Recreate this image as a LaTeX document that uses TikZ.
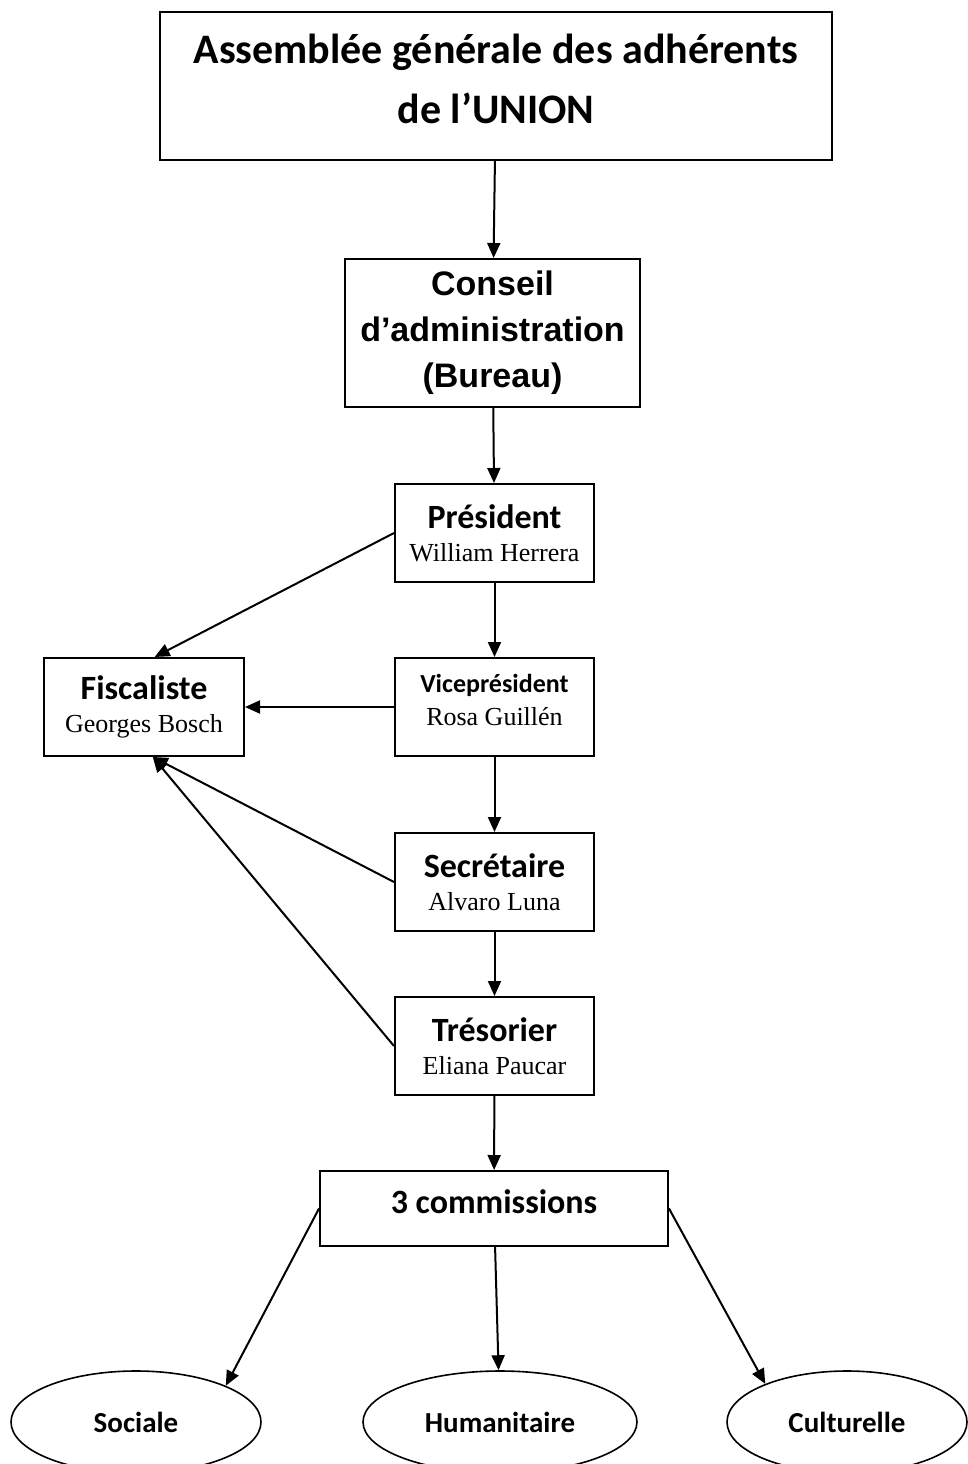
\documentclass[tikz,border=0pt]{standalone}
\usepackage{fontspec}
\setmainfont{Liberation Serif}
\newfontfamily\calib{Carlito}
\newfontfamily\arialf{Liberation Sans}
\usepackage{tikz}
\usetikzlibrary{shapes.geometric,arrows.meta}
\tikzstyle{block} = [rectangle, draw, line width=2pt, align=center,
    minimum width=199pt, minimum height=98pt, inner sep=0pt,
    font=\fontsize{26}{33}\selectfont]
\tikzstyle{comm} = [ellipse, draw, line width=1.6pt, minimum height=102pt,
    inner sep=0pt, font=\calib\bfseries\fontsize{29}{29}\selectfont]
\tikzstyle{line} = [draw, line width=2pt, -{Triangle[length=15pt,width=13pt]}]
\newcommand{\poste}[2]{{\calib\bfseries\fontsize{34}{34}\selectfont #1}\\#2}
\newcommand{\remonte}[1]{\rule[-#1]{0pt}{0pt}}

\begin{document}
\begin{tikzpicture}[x=1pt, y=1pt, auto]
        \useasboundingbox (0,0) rectangle (968,-1464);
        % Place nodes
        \node [block, minimum width=672pt, minimum height=148pt,
            font=\calib\bfseries\fontsize{42}{60}\selectfont] (assemblee) at (496,-86)
            {Assemblée générale des adhérents\\de l’UNION\remonte{14pt}};
        \node [block, below of=assemblee, node distance=247pt, xshift=-3.5pt,
            minimum width=295pt, minimum height=148pt,
            font=\arialf\bfseries\fontsize{34}{46}\selectfont] (conseil)
            {Conseil\\d’administration\\(Bureau)};
        \node [block, below of=conseil, node distance=200pt, xshift=2pt] (president)
            {\poste{Président}{William Herrera}};
        \node [block, below of=president, node distance=174pt] (vice)
            {{\calib\bfseries\fontsize{26}{26}\selectfont Viceprésident}\\Rosa Guillén\remonte{14pt}};
        \node [block, left of=vice, node distance=350.5pt, minimum width=200pt] (fisc)
            {\poste{Fiscaliste}{Georges Bosch}};
        \node [block, below of=vice, node distance=175pt] (secretaire)
            {\poste{Secrétaire}{Alvaro Luna}};
        \node [block, below of=secretaire, node distance=164pt] (tresorier)
            {\poste{Trésorier}{Eliana Paucar}};
        \node [block, below of=tresorier, node distance=162.5pt, xshift=-0.5pt,
            minimum width=348pt, minimum height=75pt,
            font=\calib\bfseries\fontsize{34}{34}\selectfont] (commissions)
            {3 commissions\remonte{14pt}};
        \node [comm, below of=commissions, node distance=213.5pt, xshift=6pt,
            minimum width=274pt] (humanitaire) {Humanitaire};
        \node [comm, left of=humanitaire, node distance=364pt,
            minimum width=250pt] (sociale) {Sociale};
        \node [comm, right of=humanitaire, node distance=347pt,
            minimum width=240pt] (culturelle) {Culturelle};
        % Draw edges
        \path [line] (assemblee) -- (conseil);
        \path [line] (conseil) -- (president);
        \path [line] (president) -- (vice);
        \path [line] (vice) -- (secretaire);
        \path [line] (secretaire) -- (tresorier);
        \path [line] (tresorier) -- (commissions);
        \path [line] (president.west) -- (fisc.78);
        \path [line] (vice) -- (fisc);
        \path [line] (secretaire.west) -- (fisc.280);
        \path [line] (tresorier.west) -- (fisc.280);
        \path [line] (commissions.west) -- (sociale.22);
        \path [line] (commissions) -- (humanitaire);
        \path [line] (commissions.east) -- (culturelle.155);
    \end{tikzpicture}
\end{document}
